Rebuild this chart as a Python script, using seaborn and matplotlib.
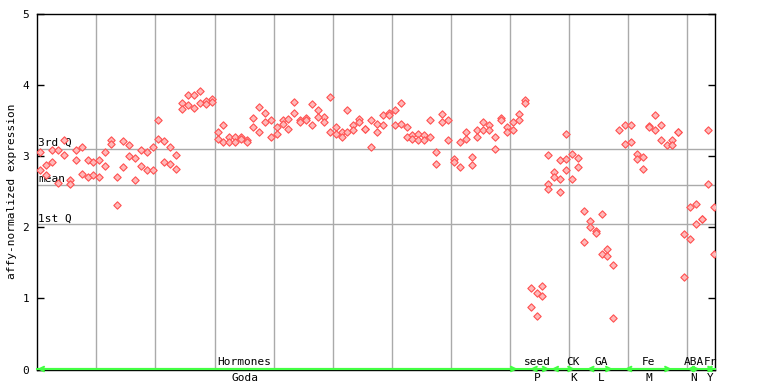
import numpy as np
import pandas as pd
import seaborn as sns
import matplotlib
matplotlib.use("Agg")
import matplotlib.pyplot as plt
import matplotlib.transforms as mtransforms

# expression values, one entry per sample column (upper / lower replicate)
rep_a = [3.05, 2.88, 3.09, 3.08, 3.22, 2.66, 3.09, 3.13, 2.94, 2.91,
         2.95, 3.05, 3.23, 2.70, 3.21, 3.16, 2.97, 3.09, 3.06, 3.13,
         3.51, 3.21, 3.13, 3.02, 3.75, 3.86, 3.86, 3.91, 3.77, 3.80,
         3.33, 3.43, 3.26, 3.26, 3.27, 3.23, 3.54, 3.69, 3.61, 3.50,
         3.41, 3.50, 3.52, 3.76, 3.51, 3.54, 3.73, 3.64, 3.55, 3.83,
         3.40, 3.33, 3.64, 3.44, 3.52, 3.38, 3.51, 3.45, 3.58, 3.61,
         3.64, 3.75, 3.40, 3.30, 3.31, 3.29, 3.51, 3.05, 3.59, 3.50,
         2.96, 3.19, 3.34, 2.99, 3.36, 3.47, 3.43, 3.26, 3.54, 3.40,
         3.48, 3.59, 3.79, 1.14, 1.07, 1.18, 3.02, 2.77, 2.94, 3.31,
         3.03, 2.97, 2.23, 2.09, 1.95, 2.18, 1.70, 1.47, 3.37, 3.44,
         3.44, 3.03, 2.98, 3.42, 3.57, 3.43, 3.15, 3.22, 3.34, 1.91,
         2.28, 2.33, 2.12, 3.36, 2.28]
rep_b = [2.81, 2.73, 2.92, 2.62, 3.01, 2.60, 2.95, 2.75, 2.70, 2.74,
         2.70, 2.86, 3.17, 2.31, 2.84, 3.00, 2.66, 2.86, 2.80, 2.81,
         3.24, 2.91, 2.89, 2.82, 3.66, 3.72, 3.67, 3.75, 3.73, 3.76,
         3.24, 3.20, 3.19, 3.19, 3.24, 3.20, 3.41, 3.33, 3.48, 3.26,
         3.31, 3.45, 3.38, 3.61, 3.48, 3.51, 3.44, 3.55, 3.47, 3.33,
         3.31, 3.26, 3.33, 3.36, 3.47, 3.38, 3.12, 3.33, 3.43, 3.58,
         3.44, 3.45, 3.26, 3.24, 3.22, 3.23, 3.27, 2.89, 3.47, 3.22,
         2.92, 2.84, 3.24, 2.87, 3.26, 3.36, 3.37, 3.10, 3.51, 3.33,
         3.36, 3.50, 3.75, 0.875, 0.75, 1.04, 2.61, 2.71, 2.67, 2.96,
         2.68, 2.84, 1.79, 2.00, 1.92, 1.62, 1.59, 0.73, np.nan, 3.17,
         3.19, 2.96, 2.82, 3.41, 3.36, 3.22, np.nan, 3.15, 3.33, 1.30,
         1.84, 2.05, 2.11, 2.60, 1.63]
# a few columns carry a third replicate
extra_cols = [86, 88, 89]
extra_vals = [2.54, 2.49, 2.81]

stat_names = ["3rd Q", "mean", "1st Q"]
stat_vals = [3.10, 2.59, 2.04]

# experiment groups: (top label, bottom label, start, end, label position)
group_top = ["Hormones", "seed", "CK", "GA", "Fe", "ABA", "Fr"]
group_bottom = ["Goda", "P", "K", "L", "M", "N", "Y"]
group_start = [0.0, 83.4, 87.0, 93.0, 99.4, 110.0, 113.0]
group_end = [81.3, 86.7, 91.0, 97.4, 107.4, 112.1, 114.7]
group_center = [35.1, 84.6, 90.7, 95.5, 103.5, 111.1, 113.9]

n = len(rep_a)
cols = np.arange(n) + 0.5
df = pd.DataFrame({
    "x": np.concatenate([cols, cols, np.array(extra_cols) + 0.5]),
    "y": np.concatenate([rep_a, rep_b, extra_vals]),
}).dropna()

red = "#ff5050"
green = "#44ff44"
grid = "#aaaaaa"
mono = "DejaVu Sans Mono"

fig = plt.figure(figsize=(7.68, 3.84), dpi=100)
ax = fig.add_axes([37.3 / 768, 1 - 369.7 / 384, 677.7 / 768, 356.2 / 384])

for xv in range(10, 115, 10):
    ax.axvline(xv, color=grid, lw=1, zorder=1)
for name, v in zip(stat_names, stat_vals):
    ax.axhline(v, color=grid, lw=1, zorder=1)
    ax.text(0.15, v + 0.01, name, ha="left", va="bottom",
            fontsize=8, family=mono, zorder=3)

sns.scatterplot(data=df, x="x", y="y", ax=ax, marker="D", s=14,
                color="#ffb8b8", edgecolor=red, linewidth=0.8, zorder=4)

ax.set_xlim(0, 114.7)
ax.set_ylim(0, 5)
ax.set_xticks([])
ax.set_yticks([0, 1, 2, 3, 4, 5])
ax.tick_params(axis="y", direction="in", length=5, width=1, pad=6,
               labelsize=8, right=True, left=True, labelright=False)
for lab in ax.get_yticklabels():
    lab.set_family(mono)
ax.set_xlabel("")
ax.set_ylabel("")
for sp in ax.spines.values():
    sp.set_color("black")
    sp.set_linewidth(1)

fig.text(12 / 768, 0.501, "affy-normalized expression", rotation=90,
         ha="center", va="center", fontsize=8, family=mono)

trans = mtransforms.blended_transform_factory(ax.transData, ax.transAxes)
ax.plot([0, 114.7], [0.002, 0.002], transform=trans, color=green,
        lw=1.5, zorder=5, clip_on=False)
for top, bot, x0, x1, xc in zip(group_top, group_bottom, group_start,
                                group_end, group_center):
    ax.annotate("", xy=(x1, 0.002), xytext=(x0, 0.002), xycoords=trans,
                textcoords=trans, annotation_clip=False,
                arrowprops=dict(arrowstyle="<->", color=green, lw=1.5,
                                mutation_scale=8, shrinkA=0, shrinkB=0),
                zorder=6)
    ax.text(xc, 0.008, top, transform=trans, ha="center", va="bottom",
            fontsize=8, family=mono, zorder=7, clip_on=False)
    ax.text(xc, -0.008, bot, transform=trans, ha="center", va="top",
            fontsize=8, family=mono, zorder=7, clip_on=False)

fig.savefig("out.png", dpi=100)
